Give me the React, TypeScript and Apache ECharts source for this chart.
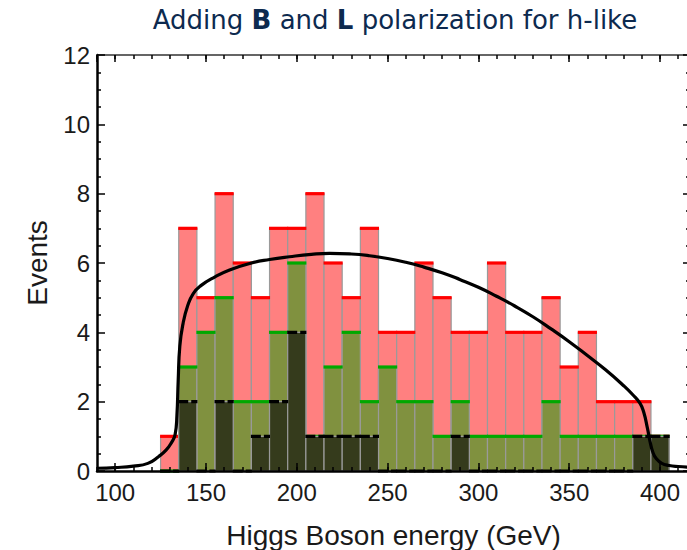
import React, { useEffect, useRef } from "react";
import * as echarts from "echarts";

// Histogram bins (left edges, GeV) and bin width
const binLefts = [125, 135, 145, 155, 165, 175, 185, 195, 205, 215, 225, 235, 245, 255, 265, 275, 285, 295, 305, 315, 325, 335, 345, 355, 365, 375, 385, 395];
const binWidth = 10;

// Events per bin
const allEvents = [1, 7, 5, 8, 6, 5, 7, 7, 8, 6, 5, 7, 4, 4, 6, 5, 4, 4, 6, 4, 4, 5, 3, 4, 2, 2, 2, 1];
const bPolEvents = [0, 3, 4, 5, 2, 2, 4, 6, 1, 3, 4, 2, 3, 2, 2, 1, 2, 1, 1, 1, 1, 2, 1, 1, 1, 1, 1, 1];
const blPolEvents = [0, 2, 0, 2, 0, 1, 2, 4, 1, 1, 1, 1, 0, 0, 0, 0, 1, 0, 0, 0, 0, 0, 0, 0, 0, 0, 1, 1];

// Expected distribution curve
const curveX = [90, 100, 110, 118, 124, 128, 131, 133, 134, 134.7, 135.6, 137.4, 140, 143, 147, 155, 163, 175, 185, 196, 208, 218, 230, 240, 250, 260, 270, 280, 290, 300, 310, 320, 330, 340, 350, 360, 370, 380, 385, 389, 391, 393, 394.5, 396, 398, 401, 405, 410, 416.5];
const curveY = [0.08, 0.1, 0.14, 0.22, 0.42, 0.6, 0.82, 1.05, 1.6, 2.6, 3.6, 4.26, 4.78, 5.12, 5.34, 5.6, 5.8, 6.0, 6.1, 6.18, 6.25, 6.28, 6.26, 6.21, 6.13, 6.02, 5.88, 5.72, 5.52, 5.3, 5.04, 4.76, 4.45, 4.1, 3.73, 3.33, 2.92, 2.46, 2.2, 1.95, 1.7, 1.25, 0.85, 0.55, 0.35, 0.22, 0.16, 0.13, 0.11];

const X_MIN = 90;
const X_MAX = 416.5;
const Y_MIN = 0;
const Y_MAX = 12;

const FONT = "Liberation Sans, Arial, sans-serif";
const TEXT_COLOR = "#1a1a1a";

function binData(values: number[]) {
  return binLefts.map((l, i) => [l, l + binWidth, values[i]]);
}

function barSeries(name: string, values: number[], fill: string) {
  return {
    type: "custom",
    name,
    xAxisIndex: 0,
    yAxisIndex: 0,
    silent: true,
    z: 2,
    data: binData(values),
    encode: { x: [0, 1], y: 2 },
    renderItem: (_params: any, api: any) => {
      const v = api.value(2);
      const p0 = api.coord([api.value(0), v]);
      const p1 = api.coord([api.value(1), 0]);
      return {
        type: "rect",
        shape: { x: p0[0], y: p0[1], width: p1[0] - p0[0], height: p1[1] - p0[1] },
        style: { fill, stroke: "#9a9a9a", lineWidth: 1.2 },
      };
    },
  };
}

function capSeries(name: string, values: number[], stroke: string, dash?: number[]) {
  return {
    type: "custom",
    name,
    xAxisIndex: 0,
    yAxisIndex: 0,
    silent: true,
    z: 2,
    data: binData(values),
    encode: { x: [0, 1], y: 2 },
    renderItem: (_params: any, api: any) => {
      const v = api.value(2);
      const p0 = api.coord([api.value(0), v]);
      const p1 = api.coord([api.value(1), v]);
      return {
        type: "line",
        shape: { x1: p0[0] - 0.5, y1: p0[1], x2: p1[0] + 0.5, y2: p1[1] },
        style: { stroke, lineWidth: 3.2, lineDash: dash || null, lineCap: "butt" },
      };
    },
  };
}

export default function App() {
  const ref = useRef<HTMLDivElement>(null);

  useEffect(() => {
    if (!ref.current) return;
    const chart = echarts.init(ref.current, null, { renderer: "svg" });

    const majorTick = { show: true, inside: true, length: 8, lineStyle: { color: "#000", width: 1.5 } };
    const minorTickX = { show: true, inside: true, length: 4, lineStyle: { color: "#000", width: 1.5 } };

    const xBase = {
      type: "value",
      min: X_MIN,
      max: X_MAX,
      splitLine: { show: false },
      z: 10,
    };

    const option: any = {
      animation: false,
      backgroundColor: "#ffffff",
      grid: { left: 97, top: 55, right: 10, bottom: 89, containLabel: false },
      xAxis: [
        {
          ...xBase,
          position: "bottom",
          splitNumber: 6,
          axisLine: { show: true, onZero: false, lineStyle: { color: "#000", width: 2.5 } },
          axisTick: majorTick,
          axisLabel: {
            show: true,
            margin: 9,
            fontSize: 24,
            fontFamily: FONT,
            color: TEXT_COLOR,
            showMinLabel: false,
            showMaxLabel: false,
          },
          name: "Higgs Boson energy (GeV)",
          nameLocation: "middle",
          nameGap: 50,
          nameTextStyle: { fontSize: 28, fontFamily: FONT, color: TEXT_COLOR },
        },
        {
          ...xBase,
          position: "bottom",
          interval: 10,
          axisLine: { show: false, onZero: false },
          axisTick: minorTickX,
          axisLabel: { show: false },
        },
        {
          ...xBase,
          position: "top",
          splitNumber: 6,
          axisLine: { show: true, onZero: false, lineStyle: { color: "#333", width: 1.5 } },
          axisTick: { ...majorTick, length: 7 },
          axisLabel: { show: false },
        },
        {
          ...xBase,
          position: "top",
          interval: 10,
          axisLine: { show: false, onZero: false },
          axisTick: minorTickX,
          axisLabel: { show: false },
        },
      ],
      yAxis: [
        {
          type: "value",
          position: "left",
          min: Y_MIN,
          max: Y_MAX,
          interval: 2,
          z: 10,
          axisLine: { show: true, onZero: false, lineStyle: { color: "#000", width: 2.5 } },
          axisTick: majorTick,
          minorTick: { show: true, splitNumber: 4, length: 4, lineStyle: { color: "#000", width: 1.5 } },
          splitLine: { show: false },
          minorSplitLine: { show: false },
          axisLabel: { show: true, margin: 7, fontSize: 24, fontFamily: FONT, color: TEXT_COLOR },
          name: "Events",
          nameLocation: "middle",
          nameGap: 46,
          nameRotate: 90,
          nameTextStyle: { fontSize: 28, fontFamily: FONT, color: TEXT_COLOR },
        },
        {
          type: "value",
          position: "right",
          min: Y_MIN,
          max: Y_MAX,
          interval: 2,
          z: 10,
          axisLine: { show: true, onZero: false, lineStyle: { color: "#333", width: 1.5 } },
          axisTick: { ...majorTick, length: 7 },
          minorTick: { show: true, splitNumber: 4, length: 4, lineStyle: { color: "#000", width: 1.5 } },
          splitLine: { show: false },
          minorSplitLine: { show: false },
          axisLabel: { show: false },
        },
      ],
      graphic: [
        {
          type: "text",
          x: 395,
          y: 20,
          silent: true,
          style: {
            text: "{n|Adding }{b|B}{n| and }{b|L}{n| polarization for h-like}",
            align: "center",
            verticalAlign: "middle",
            fill: "#0d2a4f",
            rich: {
              n: { fontSize: 26, fontFamily: "DejaVu Sans", fill: "#0d2a4f" },
              b: { fontSize: 26, fontFamily: "DejaVu Sans", fontWeight: "bold", fill: "#0d2a4f" },
            },
          },
        },
      ],
      series: [
        barSeries("All events", allEvents, "#ff8080"),
        capSeries("All events cap", allEvents, "#ff0000"),
        barSeries("B polarization", bPolEvents, "#80913f"),
        capSeries("B polarization cap", bPolEvents, "#00a800"),
        barSeries("B and L polarization", blPolEvents, "#353b1c"),
        capSeries("B and L polarization cap", blPolEvents, "#000000", [10, 3]),
        {
          type: "line",
          name: "Expected",
          xAxisIndex: 0,
          yAxisIndex: 0,
          data: curveX.map((x, i) => [x, curveY[i]]),
          showSymbol: false,
          symbol: "none",
          smooth: 0.5,
          silent: true,
          z: 5,
          lineStyle: { color: "#000", width: 3.2 },
        },
      ],
    };

    chart.setOption(option);
    return () => {
      chart.dispose();
    };
  }, []);

  return (
    <div
      style={{
        position: "absolute",
        left: 0,
        top: 0,
        width: 687,
        height: 550,
        overflow: "hidden",
        background: "#ffffff",
      }}
    >
      <div ref={ref} style={{ width: 700, height: 560 }} />
    </div>
  );
}
